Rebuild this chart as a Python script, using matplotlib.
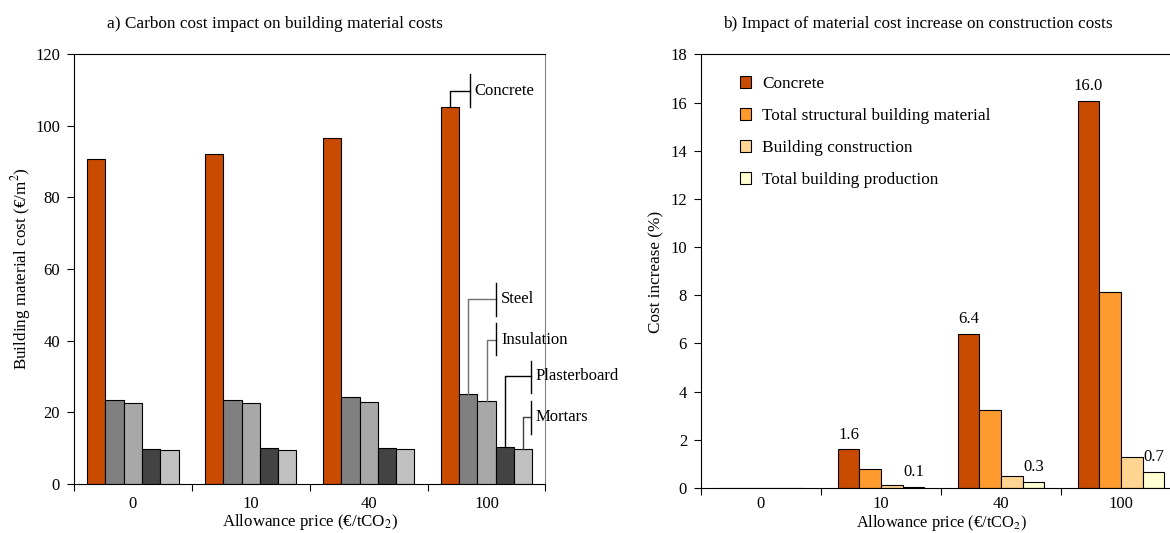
import numpy as np
import matplotlib.pyplot as plt
from matplotlib.patches import Patch

plt.rcParams['font.family'] = ['Liberation Serif', 'DejaVu Serif']
plt.rcParams['mathtext.fontset'] = 'stix'

prices = ['0', '10', '40', '100']

# a) building material cost (EUR/m2)
materials = ['Concrete', 'Steel', 'Insulation', 'Plasterboard', 'Mortars']
concrete = [90.7, 92.2, 96.6, 105.4]
steel = [23.3, 23.5, 24.1, 25.2]
insulation = [22.6, 22.6, 22.8, 23.1]
plasterboard = [9.8, 9.9, 10.1, 10.3]
mortars = [9.5, 9.5, 9.7, 9.8]
mat_colors = ['#C84B00', '#808080', '#A8A8A8', '#434343', '#C0C0C0']

# b) cost increase (%)
series_b = ['Concrete', 'Total structural building material',
            'Building construction', 'Total building production']
inc_concrete = [0, 1.6, 6.4, 16.05]
inc_structural = [0, 0.8, 3.25, 8.15]
inc_construction = [0, 0.13, 0.5, 1.3]
inc_production = [0, 0.05, 0.25, 0.65]
b_colors = ['#C84B00', '#FF9A2E', '#FFD591', '#FFFFD2']
b_labels = {(0, 1): '1.6', (3, 1): '0.1', (0, 2): '6.4', (3, 2): '0.3',
            (0, 3): '16.0', (3, 3): '0.7'}

fig = plt.figure(figsize=(11.7, 5.33), dpi=100)
ax1 = fig.add_axes([0.0632, 0.0925, 0.403, 0.8055])
ax2 = fig.add_axes([0.5991, 0.0844, 0.4103, 0.8136])

x = np.arange(len(prices))


def style_x(ax, pad):
    ax.set_xlim(-0.5, 3.5)
    ax.set_xticks(np.arange(-0.5, 4.0, 1.0))
    ax.set_xticklabels([])
    ax.set_xticks(x, minor=True)
    ax.set_xticklabels(prices, minor=True)
    ax.tick_params(axis='x', which='major', direction='out', length=5, width=0.8)
    ax.tick_params(axis='x', which='minor', length=0, pad=pad, labelsize=12)
    ax.tick_params(axis='y', direction='out', length=5, width=0.8, pad=5, labelsize=12)


# ---- panel a
w = 0.155
data_a = [concrete, steel, insulation, plasterboard, mortars]
for i, vals in enumerate(data_a):
    ax1.bar(x + (i - 2) * w, vals, w, color=mat_colors[i], edgecolor='black', linewidth=0.8)
style_x(ax1, 9)
ax1.set_ylim(0, 120)
ax1.set_yticks(range(0, 121, 20))
ax1.spines['right'].set_color('#808080')

# leader lines on the 100 group: (bar index, top y, end x, tick y0, tick y1, text x, colour)
leaders = [
    (0, 109.8, 2.856, 105.4, 114.4, 2.898, 'black'),
    (1, 51.5, 3.077, 47.0, 56.0, 3.125, '#707070'),
    (2, 40.1, 3.077, 35.9, 44.9, 3.125, '#707070'),
    (3, 30.0, 3.375, 25.4, 34.4, 3.418, 'black'),
    (4, 18.6, 3.375, 14.0, 23.0, 3.418, '#404040'),
]
for i, ytop, xend, t0, t1, xt, col in leaders:
    xb = 3 + (i - 2) * w
    ax1.plot([xb, xb, xend], [data_a[i][3], ytop, ytop], color=col, lw=1.0, clip_on=False)
    ax1.plot([xend, xend], [t0, t1], color='black', lw=1.0, clip_on=False)
    ax1.text(xt, ytop, materials[i], fontsize=12, va='center', ha='left', clip_on=False)

# ---- panel b
wb = 0.18
data_b = [inc_concrete, inc_structural, inc_construction, inc_production]
for i, vals in enumerate(data_b):
    ax2.bar(x + (i - 1.5) * wb, vals, wb, color=b_colors[i], edgecolor='black', linewidth=0.8)
for (i, g), txt in b_labels.items():
    ax2.annotate(txt, (g + (i - 1.5) * wb, data_b[i][g]), xytext=(0, 5),
                 textcoords='offset points', ha='center', va='bottom', fontsize=12)
style_x(ax2, 6)
ax2.set_ylim(0, 18)
ax2.set_yticks(range(0, 19, 2))

handles = [Patch(facecolor=c, edgecolor='black', linewidth=0.8) for c in b_colors]
fig.legend(handles, series_b, loc='upper left', bbox_to_anchor=(740 / 1170, 1 - 76 / 533),
           frameon=False, fontsize=12.4, handlelength=0.64, handleheight=0.64,
           handletextpad=0.64, labelspacing=0.93, borderpad=0, borderaxespad=0)

# titles and axis labels
fig.text(274.5 / 1170, 1 - 23.5 / 533, 'a) Carbon cost impact on building material costs',
         ha='center', va='center', fontsize=12.4)
fig.text(917.8 / 1170, 1 - 23.5 / 533, 'b) Impact of material cost increase on construction costs',
         ha='center', va='center', fontsize=12.4)
fig.text(21 / 1170, 1 - 268.7 / 533, 'Building material cost (€/m$^2$)',
         rotation=90, ha='center', va='center', fontsize=12.3)
fig.text(656 / 1170, 1 - 272 / 533, 'Cost increase (%)',
         rotation=90, ha='center', va='center', fontsize=12.3)
fig.text(310 / 1170, 1 / 533, 'Allowance price (€/tCO$_2$)',
         ha='center', va='bottom', fontsize=12.2)
fig.text(941 / 1170, 0, 'Allowance price (€/tCO$_2$)',
         ha='center', va='bottom', fontsize=11.8)

fig.savefig('out.png', dpi=100)
